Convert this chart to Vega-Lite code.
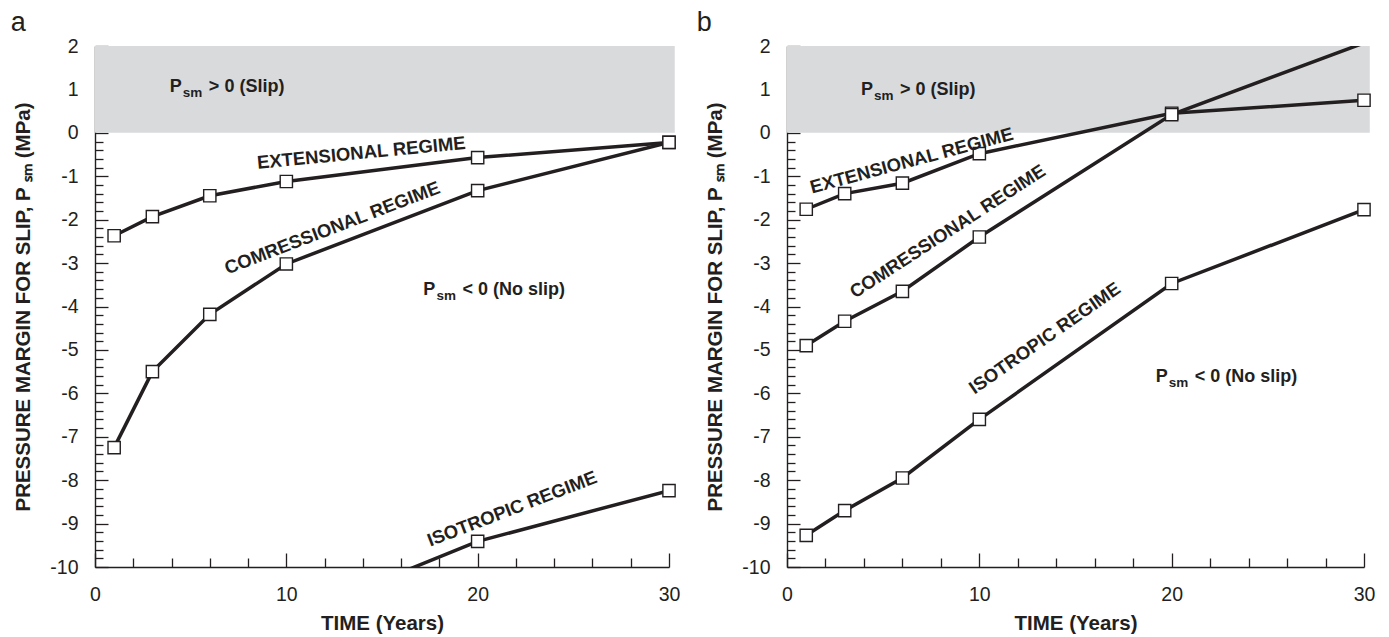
{
  "$schema": "https://vega.github.io/schema/vega-lite/v6.json",
  "background": "white",
  "padding": {"left": 10, "top": 9, "right": 5, "bottom": 5},
  "spacing": 16,
  "config": {
    "view": {"stroke": null},
    "font": "Liberation Sans",
    "axis": {
      "grid": false,
      "domainColor": "#231f20",
      "domainWidth": 1.4,
      "tickColor": "#231f20",
      "tickWidth": 1.3,
      "labelFont": "Liberation Sans",
      "labelFontSize": 19.5,
      "labelColor": "#231f20",
      "labelFlush": false,
      "labelOverlap": false,
      "titleFont": "Liberation Sans",
      "titleFontSize": 20.5,
      "titleFontWeight": "bold",
      "titleColor": "#231f20"
    },
    "title": {"font": "Liberation Sans", "fontSize": 27, "fontWeight": "normal", "color": "#231f20", "anchor": "start", "frame": "bounds", "offset": -1},
    "text": {"font": "Liberation Sans", "fontWeight": "bold", "color": "#231f20"}
  },
  "datasets": {
    "band": [{"t": 0, "t2": 30.3, "p": 0, "p2": 2}],
    "series": [
      {"panel": "a", "series": "Extensional", "t": 1, "p": -2.37},
      {"panel": "a", "series": "Extensional", "t": 3, "p": -1.93},
      {"panel": "a", "series": "Extensional", "t": 6, "p": -1.45},
      {"panel": "a", "series": "Extensional", "t": 10, "p": -1.12},
      {"panel": "a", "series": "Extensional", "t": 20, "p": -0.57},
      {"panel": "a", "series": "Extensional", "t": 30, "p": -0.22},
      {"panel": "a", "series": "Compressional", "t": 1, "p": -7.25},
      {"panel": "a", "series": "Compressional", "t": 3, "p": -5.5},
      {"panel": "a", "series": "Compressional", "t": 6, "p": -4.18},
      {"panel": "a", "series": "Compressional", "t": 10, "p": -3.02},
      {"panel": "a", "series": "Compressional", "t": 20, "p": -1.33},
      {"panel": "a", "series": "Compressional", "t": 30, "p": -0.22},
      {"panel": "a", "series": "Isotropic", "t": 10, "p": -11.2},
      {"panel": "a", "series": "Isotropic", "t": 20, "p": -9.41},
      {"panel": "a", "series": "Isotropic", "t": 30, "p": -8.24},
      {"panel": "b", "series": "Extensional", "t": 1, "p": -1.76},
      {"panel": "b", "series": "Extensional", "t": 3, "p": -1.4},
      {"panel": "b", "series": "Extensional", "t": 6, "p": -1.16},
      {"panel": "b", "series": "Extensional", "t": 10, "p": -0.48},
      {"panel": "b", "series": "Extensional", "t": 20, "p": 0.45},
      {"panel": "b", "series": "Extensional", "t": 30, "p": 0.75},
      {"panel": "b", "series": "Compressional", "t": 1, "p": -4.9},
      {"panel": "b", "series": "Compressional", "t": 3, "p": -4.34},
      {"panel": "b", "series": "Compressional", "t": 6, "p": -3.65},
      {"panel": "b", "series": "Compressional", "t": 10, "p": -2.4},
      {"panel": "b", "series": "Compressional", "t": 20, "p": 0.42},
      {"panel": "b", "series": "Compressional", "t": 30, "p": 2.07},
      {"panel": "b", "series": "Isotropic", "t": 1, "p": -9.27},
      {"panel": "b", "series": "Isotropic", "t": 3, "p": -8.7},
      {"panel": "b", "series": "Isotropic", "t": 6, "p": -7.95},
      {"panel": "b", "series": "Isotropic", "t": 10, "p": -6.6},
      {"panel": "b", "series": "Isotropic", "t": 20, "p": -3.47},
      {"panel": "b", "series": "Isotropic", "t": 30, "p": -1.77}
    ],
    "notes": [
      {"panel": "a", "label": "ext", "t": 13.92, "p": -0.46},
      {"panel": "a", "label": "comp", "t": 12.4, "p": -2.19},
      {"panel": "a", "label": "iso", "t": 21.8, "p": -8.66},
      {"panel": "a", "label": "slip", "t": 4.54, "p": 0.94},
      {"panel": "a", "label": "noslip", "t": 17.79, "p": -3.73},
      {"panel": "b", "label": "ext", "t": 6.48, "p": -0.64},
      {"panel": "b", "label": "comp", "t": 8.35, "p": -2.27},
      {"panel": "b", "label": "iso", "t": 13.4, "p": -4.73},
      {"panel": "b", "label": "slip", "t": 4.47, "p": 0.88},
      {"panel": "b", "label": "noslip", "t": 19.8, "p": -5.75}
    ]
  },
  "hconcat": [
    {
      "title": {"text": "a", "dx": -3},
      "width": 574,
      "height": 521,
      "encoding": {
        "x": {
          "field": "t", "type": "quantitative",
          "scale": {"domain": [0, 30], "nice": false, "zero": false},
          "axis": {
            "values": [0, 2, 4, 6, 8, 10, 12, 14, 16, 18, 20, 22, 24, 26, 28, 30],
            "labelExpr": "datum.value % 10 === 0 ? '' + datum.value : ''",
            "tickSize": {"condition": {"test": "datum.value % 10 === 0", "value": -14}, "value": -9},
            "labelPadding": 32,
            "title": "TIME (Years)",
            "titlePadding": 5
          }
        },
        "y": {
          "field": "p", "type": "quantitative",
          "scale": {"domain": [-10, 2], "nice": false, "zero": false},
          "axis": {
            "values": [-10, -9.8, -9.6, -9.4, -9.2, -9, -8.8, -8.6, -8.4, -8.2, -8, -7.8, -7.6, -7.4, -7.2, -7, -6.8, -6.6, -6.4, -6.2, -6, -5.8, -5.6, -5.4, -5.2, -5, -4.8, -4.6, -4.4, -4.2, -4, -3.8, -3.6, -3.4, -3.2, -3, -2.8, -2.6, -2.4, -2.2, -2, -1.8, -1.6, -1.4, -1.2, -1, -0.8, -0.6, -0.4, -0.2, 0, 0.2, 0.4, 0.6, 0.8, 1, 1.2, 1.4, 1.6, 1.8, 2],
            "labelExpr": "abs(datum.value - round(datum.value)) < 0.001 ? (datum.value < 0 ? '-' : '') + abs(round(datum.value)) : ''",
            "tickSize": {"condition": {"test": "abs(datum.value - round(datum.value)) < 0.001", "value": -13}, "value": -8},
            "labelPadding": 30,
            "title": "PRESSURE MARGIN FOR SLIP, P ₛₘ (MPa)",
            "titlePadding": 16
          }
        }
      },
      "layer": [
        {"data": {"name": "band"}, "mark": {"type": "rect", "color": "#d9dadc"}, "encoding": {"x2": {"field": "t2"}, "y2": {"field": "p2"}}},
        {"data": {"name": "series"}, "transform": [{"filter": "datum.panel === 'a'"}], "mark": {"type": "line", "color": "#231f20", "strokeWidth": 3.5, "clip": true}, "encoding": {"detail": {"field": "series"}}},
        {"data": {"name": "series"}, "transform": [{"filter": "datum.panel === 'a' && datum.p >= -10 && datum.p <= 2"}], "mark": {"type": "point", "shape": "square", "size": 150, "filled": true, "fill": "white", "stroke": "#231f20", "strokeWidth": 1.4, "opacity": 1}},
        {"data": {"name": "notes"}, "transform": [{"filter": "datum.panel === 'a' && datum.label === 'ext'"}], "mark": {"type": "text", "text": "EXTENSIONAL REGIME", "angle": 354.5, "fontSize": 18.5, "align": "center", "baseline": "middle"}},
        {"data": {"name": "notes"}, "transform": [{"filter": "datum.panel === 'a' && datum.label === 'comp'"}], "mark": {"type": "text", "text": "COMRESSIONAL REGIME", "angle": 339, "fontSize": 18.5, "align": "center", "baseline": "middle"}},
        {"data": {"name": "notes"}, "transform": [{"filter": "datum.panel === 'a' && datum.label === 'iso'"}], "mark": {"type": "text", "text": "ISOTROPIC REGIME", "angle": 339, "fontSize": 18.5, "align": "center", "baseline": "middle"}},
        {"data": {"name": "notes"}, "transform": [{"filter": "datum.panel === 'a' && datum.label === 'slip'"}], "mark": {"type": "text", "text": "P", "fontSize": 18, "align": "right", "baseline": "alphabetic"}},
        {"data": {"name": "notes"}, "transform": [{"filter": "datum.panel === 'a' && datum.label === 'slip'"}], "mark": {"type": "text", "text": "sm", "fontSize": 13.5, "align": "left", "baseline": "alphabetic", "dx": 1, "dy": 5}},
        {"data": {"name": "notes"}, "transform": [{"filter": "datum.panel === 'a' && datum.label === 'slip'"}], "mark": {"type": "text", "text": "> 0 (Slip)", "fontSize": 18, "align": "left", "baseline": "alphabetic", "dx": 27}},
        {"data": {"name": "notes"}, "transform": [{"filter": "datum.panel === 'a' && datum.label === 'noslip'"}], "mark": {"type": "text", "text": "P", "fontSize": 18, "align": "right", "baseline": "alphabetic"}},
        {"data": {"name": "notes"}, "transform": [{"filter": "datum.panel === 'a' && datum.label === 'noslip'"}], "mark": {"type": "text", "text": "sm", "fontSize": 13.5, "align": "left", "baseline": "alphabetic", "dx": 1, "dy": 5}},
        {"data": {"name": "notes"}, "transform": [{"filter": "datum.panel === 'a' && datum.label === 'noslip'"}], "mark": {"type": "text", "text": "< 0 (No slip)", "fontSize": 18, "align": "left", "baseline": "alphabetic", "dx": 27}}
      ]
    },
    {
      "title": {"text": "b", "dx": -9},
      "width": 577,
      "height": 521,
      "encoding": {
        "x": {
          "field": "t", "type": "quantitative",
          "scale": {"domain": [0, 30], "nice": false, "zero": false},
          "axis": {
            "values": [0, 2, 4, 6, 8, 10, 12, 14, 16, 18, 20, 22, 24, 26, 28, 30],
            "labelExpr": "datum.value % 10 === 0 ? '' + datum.value : ''",
            "tickSize": {"condition": {"test": "datum.value % 10 === 0", "value": -14}, "value": -9},
            "labelPadding": 32,
            "title": "TIME (Years)",
            "titlePadding": 5
          }
        },
        "y": {
          "field": "p", "type": "quantitative",
          "scale": {"domain": [-10, 2], "nice": false, "zero": false},
          "axis": {
            "values": [-10, -9.8, -9.6, -9.4, -9.2, -9, -8.8, -8.6, -8.4, -8.2, -8, -7.8, -7.6, -7.4, -7.2, -7, -6.8, -6.6, -6.4, -6.2, -6, -5.8, -5.6, -5.4, -5.2, -5, -4.8, -4.6, -4.4, -4.2, -4, -3.8, -3.6, -3.4, -3.2, -3, -2.8, -2.6, -2.4, -2.2, -2, -1.8, -1.6, -1.4, -1.2, -1, -0.8, -0.6, -0.4, -0.2, 0, 0.2, 0.4, 0.6, 0.8, 1, 1.2, 1.4, 1.6, 1.8, 2],
            "labelExpr": "abs(datum.value - round(datum.value)) < 0.001 ? (datum.value < 0 ? '-' : '') + abs(round(datum.value)) : ''",
            "tickSize": {"condition": {"test": "abs(datum.value - round(datum.value)) < 0.001", "value": -13}, "value": -8},
            "labelPadding": 30,
            "title": "PRESSURE MARGIN FOR SLIP, P ₛₘ (MPa)",
            "titlePadding": 16
          }
        }
      },
      "layer": [
        {"data": {"name": "band"}, "mark": {"type": "rect", "color": "#d9dadc"}, "encoding": {"x2": {"field": "t2"}, "y2": {"field": "p2"}}},
        {"data": {"name": "series"}, "transform": [{"filter": "datum.panel === 'b'"}], "mark": {"type": "line", "color": "#231f20", "strokeWidth": 3.5, "clip": true}, "encoding": {"detail": {"field": "series"}}},
        {"data": {"name": "series"}, "transform": [{"filter": "datum.panel === 'b' && datum.p >= -10 && datum.p <= 2"}], "mark": {"type": "point", "shape": "square", "size": 150, "filled": true, "fill": "white", "stroke": "#231f20", "strokeWidth": 1.4, "opacity": 1}},
        {"data": {"name": "notes"}, "transform": [{"filter": "datum.panel === 'b' && datum.label === 'ext'"}], "mark": {"type": "text", "text": "EXTENSIONAL REGIME", "angle": 345, "fontSize": 18.5, "align": "center", "baseline": "middle"}},
        {"data": {"name": "notes"}, "transform": [{"filter": "datum.panel === 'b' && datum.label === 'comp'"}], "mark": {"type": "text", "text": "COMRESSIONAL REGIME", "angle": 327, "fontSize": 18.5, "align": "center", "baseline": "middle"}},
        {"data": {"name": "notes"}, "transform": [{"filter": "datum.panel === 'b' && datum.label === 'iso'"}], "mark": {"type": "text", "text": "ISOTROPIC REGIME", "angle": 325, "fontSize": 18.5, "align": "center", "baseline": "middle"}},
        {"data": {"name": "notes"}, "transform": [{"filter": "datum.panel === 'b' && datum.label === 'slip'"}], "mark": {"type": "text", "text": "P", "fontSize": 18, "align": "right", "baseline": "alphabetic"}},
        {"data": {"name": "notes"}, "transform": [{"filter": "datum.panel === 'b' && datum.label === 'slip'"}], "mark": {"type": "text", "text": "sm", "fontSize": 13.5, "align": "left", "baseline": "alphabetic", "dx": 1, "dy": 5}},
        {"data": {"name": "notes"}, "transform": [{"filter": "datum.panel === 'b' && datum.label === 'slip'"}], "mark": {"type": "text", "text": "> 0 (Slip)", "fontSize": 18, "align": "left", "baseline": "alphabetic", "dx": 27}},
        {"data": {"name": "notes"}, "transform": [{"filter": "datum.panel === 'b' && datum.label === 'noslip'"}], "mark": {"type": "text", "text": "P", "fontSize": 18, "align": "right", "baseline": "alphabetic"}},
        {"data": {"name": "notes"}, "transform": [{"filter": "datum.panel === 'b' && datum.label === 'noslip'"}], "mark": {"type": "text", "text": "sm", "fontSize": 13.5, "align": "left", "baseline": "alphabetic", "dx": 1, "dy": 5}},
        {"data": {"name": "notes"}, "transform": [{"filter": "datum.panel === 'b' && datum.label === 'noslip'"}], "mark": {"type": "text", "text": "< 0 (No slip)", "fontSize": 18, "align": "left", "baseline": "alphabetic", "dx": 27}}
      ]
    }
  ]
}
